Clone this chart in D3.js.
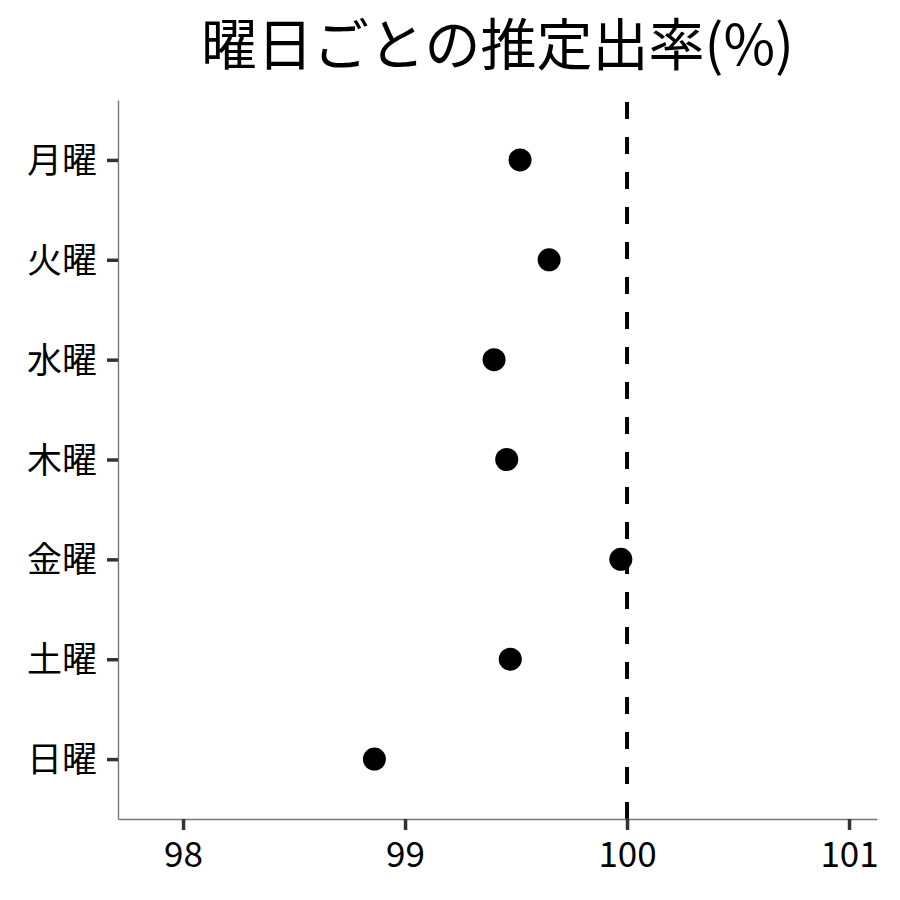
<!DOCTYPE html>
<html>
<head>
<meta charset="utf-8">
<script src="https://cdn.jsdelivr.net/npm/d3@7"></script>
<style>
  body { margin: 0; background: #fff; }
  text { font-family: "Noto Sans CJK JP", "Noto Sans", sans-serif; }
</style>
</head>
<body>
<div id="viz"></div>
<script>
// data
let days = ["月曜", "火曜", "水曜", "木曜", "金曜", "土曜", "日曜"]
let rates = [99.518, 99.649, 99.401, 99.458, 99.972, 99.474, 98.862]
let xTicks = [98, 99, 100, 101]
let refValue = 100
let title = "曜日ごとの推定出率(%)"

let data = days.map((d, i) => ({ day: d, rate: rates[i] }))

// panel edges
let margin = { left: 118, right: 23, top: 100, bottom: 81 }
let W = 900, H = 900

let svg = d3.select("#viz")
  .append("svg")
    .attr("width", W)
    .attr("height", H)

// scales
let xScale = d3.scaleLinear()
    .domain([97.707, 101.126])
    .range([margin.left, W - margin.right])

let yScale = d3.scalePoint()
    .domain(days)
    .range([margin.top, H - margin.bottom])
    .padding(0.6)

// reference line (drawn bottom to top)
svg.append("line")
    .attr("x1", xScale(refValue))
    .attr("x2", xScale(refValue))
    .attr("y1", H - margin.bottom)
    .attr("y2", margin.top)
    .attr("stroke", "#000")
    .attr("stroke-width", 4)
    .attr("stroke-dasharray", "17,18")

// points
svg.selectAll("circle")
  .data(data)
  .join("circle")
    .attr("cx", d => xScale(d.rate))
    .attr("cy", d => yScale(d.day))
    .attr("r", 11.5)
    .attr("fill", "#000")

// axes
let xAxis = d3.axisBottom(xScale)
    .tickValues(xTicks)
    .tickFormat(d3.format("d"))
    .tickSize(11)
    .tickPadding(12)
    .tickSizeOuter(0)

let yAxis = d3.axisLeft(yScale)
    .tickSize(11)
    .tickPadding(10)
    .tickSizeOuter(0)

let gx = svg.append("g")
    .attr("transform", `translate(0,${H - margin.bottom})`)
    .call(xAxis)

let gy = svg.append("g")
    .attr("transform", `translate(${margin.left},0)`)
    .call(yAxis)

;[gx, gy].forEach(g => {
  g.select(".domain").attr("stroke", "#777").attr("stroke-width", 1.4)
  g.selectAll(".tick line").attr("stroke", "#333").attr("stroke-width", 3.5)
  g.selectAll(".tick text")
    .attr("fill", "#000")
    .style("font-size", "35px")
    .style("font-family", "'Noto Sans CJK JP', sans-serif")
})
gy.selectAll(".tick text").attr("dy", "0.36em")

// title
svg.append("text")
    .attr("x", (margin.left + W - margin.right) / 2)
    .attr("y", 65)
    .attr("text-anchor", "middle")
    .style("font-size", "56px")
    .attr("fill", "#000")
    .text(title)
</script>
</body>
</html>
